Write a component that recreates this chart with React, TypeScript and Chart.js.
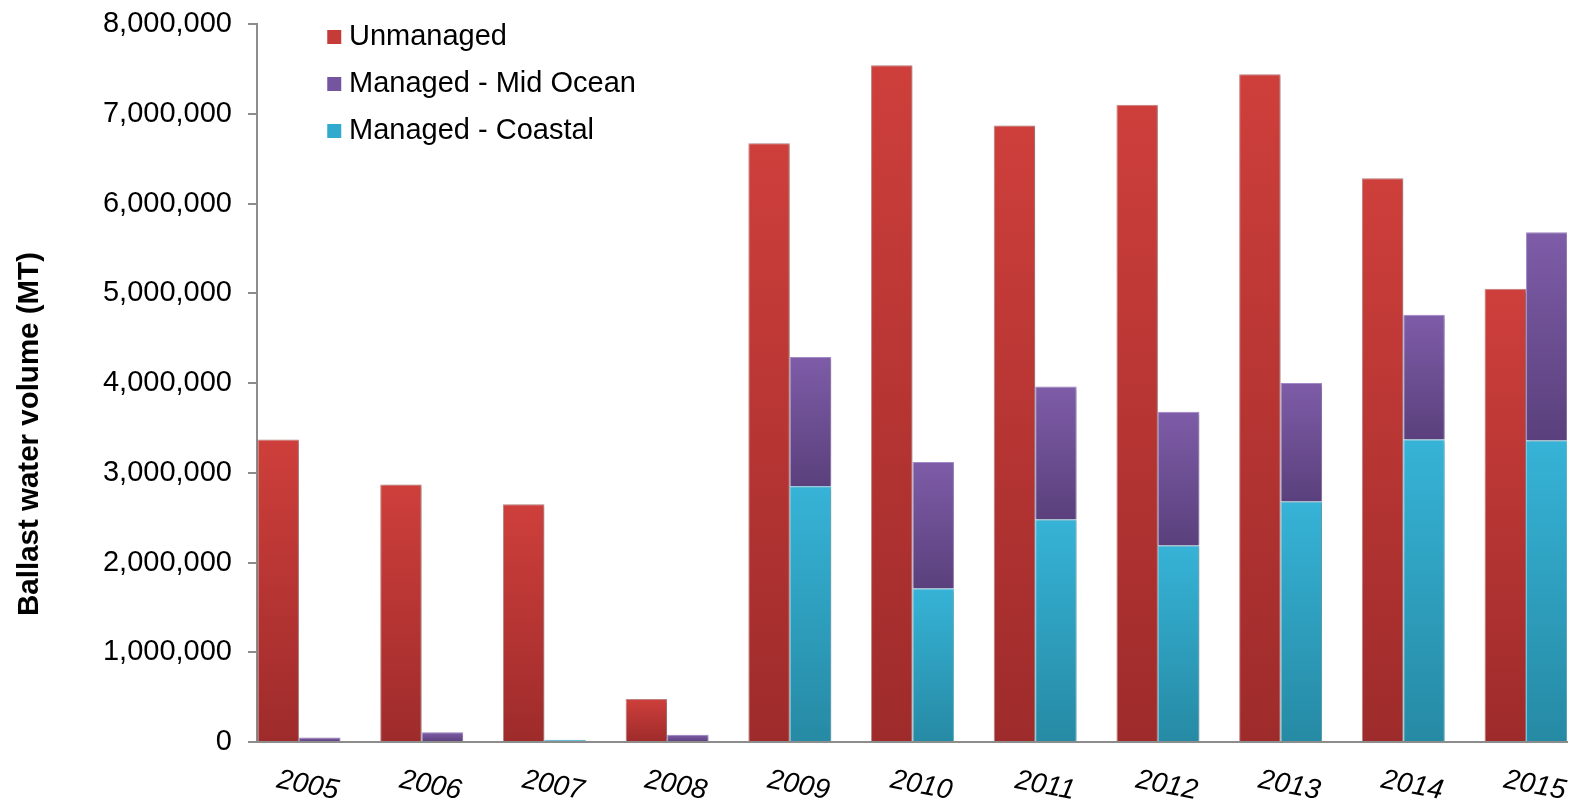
import { useEffect, useRef } from 'react';
import { Chart, registerables } from 'chart.js';

Chart.register(...registerables);

// Annual ballast water volumes (metric tonnes)
const years = ['2005', '2006', '2007', '2008', '2009', '2010', '2011', '2012', '2013', '2014', '2015'];
const unmanaged = [3370000, 2870000, 2650000, 480000, 6670000, 7540000, 6870000, 7100000, 7440000, 6280000, 5050000];
const midOcean = [50000, 110000, 0, 80000, 1440000, 1410000, 1480000, 1490000, 1320000, 1390000, 2320000];
const coastal = [0, 0, 25000, 0, 2850000, 1710000, 2480000, 2190000, 2680000, 3370000, 3360000];

const yMax = 8000000;
const yStep = 1000000;

const FONT = '"Liberation Sans", Arial, Helvetica, sans-serif';
const AXIS_GREY = '#8c8c8c';

// Lower/upper bounds of every bar segment, used to give each segment its own gradient
const zeros = years.map(() => 0);
const managedTop = coastal.map((c, i) => c + midOcean[i]);

const points = (values: number[]) => values.map((v, i) => ({ x: i, y: v }));

function segmentFill(topColor: string, bottomColor: string, lower: number[], upper: number[]) {
  return (ctx: any) => {
    const chart = ctx.chart;
    const yScale = chart.scales && chart.scales.y;
    if (ctx.type !== 'data' || !yScale || !chart.chartArea) return topColor;
    const i = ctx.dataIndex;
    const yTop = yScale.getPixelForValue(upper[i]);
    const yBottom = yScale.getPixelForValue(lower[i]);
    if (!isFinite(yTop) || !isFinite(yBottom) || Math.abs(yBottom - yTop) < 1) return topColor;
    const g = chart.ctx.createLinearGradient(0, yTop, 0, yBottom);
    g.addColorStop(0, topColor);
    g.addColorStop(1, bottomColor);
    return g;
  };
}

const legendSwatch: Record<number, string> = { 0: '#C53B38', 1: '#32AACD', 2: '#7455A0' };
const legendRank: Record<number, number> = { 0: 0, 2: 1, 1: 2 };

// Moves the in-plot legend to the upper left, next to the value axis
const legendPlacement = {
  id: 'legendPlacement',
  afterLayout(chart: any) {
    const lg = chart.legend;
    if (!lg) return;
    lg.left = chart.chartArea.left + 59;
    lg.top = chart.chartArea.top - 19.5;
    lg.right = lg.left + lg.width;
    lg.bottom = lg.top + lg.height;
  },
};

// Soft drop shadow under the bars
const barShadow = {
  id: 'barShadow',
  beforeDatasetsDraw(chart: any) {
    const c = chart.ctx;
    c.save();
    c.shadowColor = 'rgba(0, 0, 0, 0.28)';
    c.shadowBlur = 3;
    c.shadowOffsetX = 1.5;
    c.shadowOffsetY = 1;
  },
  afterDatasetsDraw(chart: any) {
    chart.ctx.restore();
  },
};

// Value axis caption
const axisCaption = {
  id: 'axisCaption',
  afterDraw(chart: any) {
    const c = chart.ctx;
    c.save();
    c.translate(30, 434);
    c.rotate(-Math.PI / 2);
    c.font = `bold 29.5px ${FONT}`;
    c.fillStyle = '#000';
    c.textAlign = 'center';
    c.textBaseline = 'middle';
    c.fillText('Ballast water volume (MT)', 0, 0);
    c.restore();
  },
};

export default function App() {
  const canvasRef = useRef<HTMLCanvasElement | null>(null);

  useEffect(() => {
    if (!canvasRef.current) return;
    const chart = new Chart(canvasRef.current, {
      type: 'bar',
      data: {
        datasets: [
          {
            label: 'Unmanaged',
            data: points(unmanaged),
            stack: 'unmanaged',
            backgroundColor: segmentFill('#CE3F3B', '#9E2B2B', zeros, unmanaged),
            borderColor: 'rgba(150, 38, 38, 0.55)',
            borderWidth: 1,
          },
          {
            label: 'Managed - Coastal',
            data: points(coastal),
            stack: 'managed',
            backgroundColor: segmentFill('#36B3D7', '#268AA4', zeros, coastal),
            borderColor: 'rgba(70, 185, 220, 0.8)',
            borderWidth: 1,
          },
          {
            label: 'Managed - Mid Ocean',
            data: points(midOcean),
            stack: 'managed',
            backgroundColor: segmentFill('#7E5CA8', '#5A407C', coastal, managedTop),
            borderColor: 'rgba(150, 120, 195, 0.85)',
            borderWidth: 1,
          },
        ],
      },
      options: {
        responsive: true,
        maintainAspectRatio: false,
        animation: false,
        events: [],
        layout: { padding: { top: 24, right: 11, bottom: 0, left: 0 } },
        datasets: {
          bar: { categoryPercentage: 0.676, barPercentage: 1.0 },
        },
        scales: {
          x: {
            type: 'linear',
            min: -0.342,
            max: 10.334,
            offset: false,
            afterBuildTicks: (scale: any) => {
              scale.ticks = years.map((_, i) => ({ value: i + 0.321 }));
            },
            afterFit: (scale: any) => {
              scale.height = 64;
              scale.paddingLeft = 0;
              scale.paddingRight = 0;
            },
            grid: { display: false, drawTicks: false, offset: false },
            border: { display: true, color: AXIS_GREY, width: 2 },
            ticks: {
              autoSkip: false,
              minRotation: -11,
              maxRotation: -11,
              padding: 33,
              color: '#000',
              font: { family: FONT, size: 28, style: 'italic' },
              callback: (_v: any, i: number) => years[i],
            },
          },
          y: {
            min: 0,
            max: yMax,
            stacked: true,
            afterFit: (scale: any) => {
              scale.width = 257;
              scale.paddingTop = 0;
              scale.paddingBottom = 0;
            },
            grid: { drawOnChartArea: false, drawTicks: true, tickLength: 9, color: AXIS_GREY, lineWidth: 2 },
            border: { display: true, color: AXIS_GREY, width: 2 },
            ticks: {
              stepSize: yStep,
              padding: 16,
              color: '#000',
              font: { family: FONT, size: 29 },
              callback: (v: any) => Number(v).toLocaleString('en-US'),
            },
          },
        },
        plugins: {
          tooltip: { enabled: false },
          legend: {
            display: true,
            position: 'chartArea' as any,
            align: 'start',
            labels: {
              usePointStyle: true,
              pointStyle: 'rect',
              boxWidth: 0.5,
              boxHeight: 14,
              padding: 18,
              color: '#000',
              font: { family: FONT, size: 29 },
              sort: (a: any, b: any) => legendRank[a.datasetIndex] - legendRank[b.datasetIndex],
              generateLabels: (ch: any) => {
                const items = Chart.defaults.plugins.legend.labels.generateLabels(ch);
                return items.map((it: any) => ({
                  ...it,
                  fillStyle: legendSwatch[it.datasetIndex],
                  strokeStyle: legendSwatch[it.datasetIndex],
                  lineWidth: 0,
                  pointStyle: 'rect',
                }));
              },
            },
          },
        },
      },
      plugins: [legendPlacement, barShadow, axisCaption],
    });
    return () => chart.destroy();
  }, []);

  return (
    <div style={{ position: 'fixed', left: 0, top: 0, width: 1578, height: 806, background: '#fff' }}>
      <canvas ref={canvasRef} />
    </div>
  );
}
